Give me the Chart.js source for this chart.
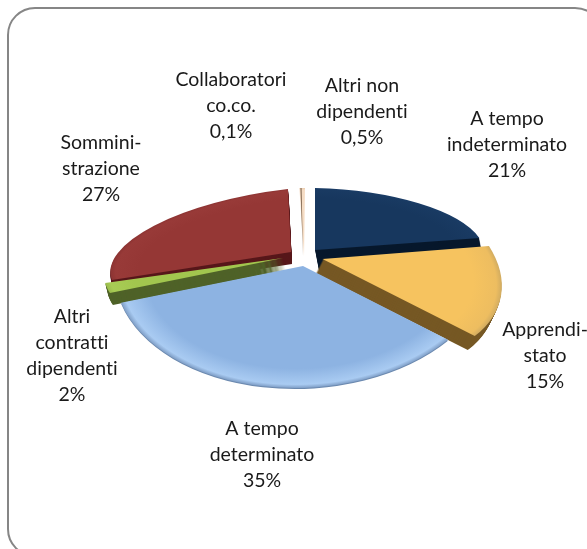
<!DOCTYPE html>
<html>
<head>
<meta charset="utf-8">
<style>html,body{margin:0;padding:0;background:#fff}canvas{display:block}</style>
<script src="https://cdn.jsdelivr.net/npm/chart.js@4/dist/chart.umd.js"></script>
</head>
<body>
<canvas id="c" width="587" height="549"></canvas>
<script>
// DATA
const categories = ["A tempo indeterminato","Apprendistato","A tempo determinato","Altri contratti dipendenti","Somministrazione","Collaboratori co.co.","Altri non dipendenti"];
const values = [21, 15, 35, 2, 27, 0.1, 0.5];
const valueLabels = ["21%","15%","35%","2%","27%","0,1%","0,5%"];
const labelLines = [["A tempo","indeterminato"],["Apprendi-","stato"],["A tempo","determinato"],["Altri","contratti","dipendenti"],["Sommini-","strazione"],["Collaboratori","co.co."],["Altri non","dipendenti"]];

// STYLE
const faceColors = ["#17375E","#F6C35F","#8DB3E2","#A2C64E","#953735","#7E6650","#F5DCC4"];
const rimLight   = ["#193A62","#EDBD60","#A9CBF2","#A8CC55","#983A38","#7E6650","#F5DCC4"];
const rimDark    = ["#1A3C66","#D2AC60","#7F9EC6","#9ABC4C","#8C3332","#7E6650","#EBCDB0"];
const sideColors = ["#07182C","#765824","#6A88AE","#4F6228","#57171A","#5C4630","#B8A088"];
// view of each exploded slice: [apexX, apexY, xFromU, xFromV, yFromU, yFromV, depthX, depthY]
const views = [
  [315,250,170,0,4,62,4,21],
  [322.5,259,178,21.7,14.4,105,-7,14],
  [303,266,188.4,-2.8,-3.4,122,0,1],
  [283,258,180,0,-12.3,84.7,3,12],
  [291,252,180.6,-3.7,-18.5,63.7,1,12],
  [303,256,180,-4.2,0,68,0,0],
  [304,256,180,-1,0,68,0,0]
];
const drawOrder = [6,5,4,0,3,1,2];
const labelAnchors = [[507,119],[545,330],[262,429],[72,317],[101,143],[231,80],[362,86]];
const lineStep = 26;

function drawSlice(ctx, arc, i) {
  const v = views[i], R = arc.outerRadius;
  const paint = (fill, ox, oy) => {
    ctx.save();
    ctx.translate(v[0] + ox, v[1] + oy);
    ctx.transform(v[2] / R, v[4] / R, v[3] / R, v[5] / R, 0, 0);
    ctx.translate(-arc.x, -arc.y);
    const stub = Object.create(arc);
    stub.options = {...arc.options, backgroundColor: fill, borderWidth: 0, offset: 0};
    arc.draw.call(stub, ctx);
    ctx.restore();
  };
  const steps = Math.ceil(Math.max(Math.abs(v[6]), Math.abs(v[7])));
  for (let s = steps; s >= 1; s--) paint(sideColors[i], v[6] * s / steps, v[7] * s / steps);
  const g = ctx.createRadialGradient(arc.x, arc.y, 0, arc.x, arc.y, R);
  g.addColorStop(0, faceColors[i]);
  g.addColorStop(0.84, faceColors[i]);
  g.addColorStop(0.97, rimLight[i]);
  g.addColorStop(1, rimDark[i]);
  paint(g, 0, 0);
}

const scene = {
  id: "scene",
  beforeDraw(chart) {
    const ctx = chart.ctx;
    ctx.save();
    ctx.fillStyle = "#fff";
    ctx.fillRect(0, 0, chart.width, chart.height);
    ctx.strokeStyle = "#868686";
    ctx.lineWidth = 2;
    ctx.beginPath();
    ctx.roundRect(8, 8, 594, 548, 27);
    ctx.stroke();
    ctx.restore();
  },
  beforeDatasetsDraw(chart) {
    const arcs = chart.getDatasetMeta(0).data;
    drawOrder.forEach(i => drawSlice(chart.ctx, arcs[i], i));
    return false;
  },
  afterDraw(chart) {
    const ctx = chart.ctx;
    ctx.save();
    ctx.fillStyle = "#1a1a1a";
    ctx.font = '19.5px Lato, sans-serif';
    ctx.textRendering = "optimizeSpeed";
    ctx.textAlign = "center";
    ctx.textBaseline = "middle";
    labelLines.forEach((lines, i) => {
      const [x, y] = labelAnchors[i];
      [...lines, valueLabels[i]].forEach((t, k) => ctx.fillText(t, x, y + k * lineStep));
    });
    ctx.restore();
  }
};

new Chart(document.getElementById("c"), {
  type: "pie",
  data: { labels: categories, datasets: [{ data: values, backgroundColor: faceColors, borderWidth: 0 }] },
  options: {
    responsive: false,
    animation: false,
    plugins: { legend: { display: false }, tooltip: { enabled: false } }
  },
  plugins: [scene]
});
</script>
</body>
</html>
